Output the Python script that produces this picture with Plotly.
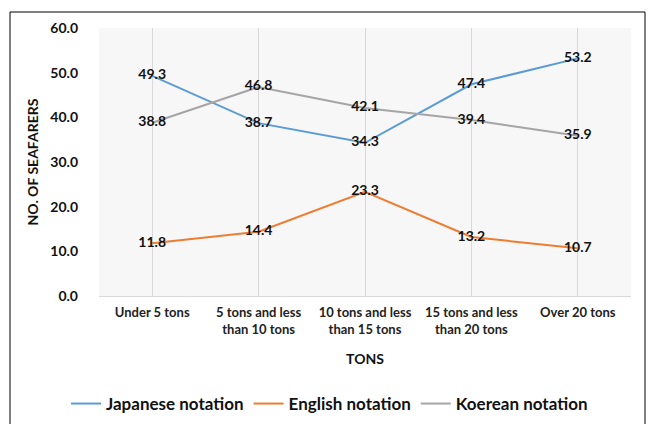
import plotly.graph_objects as go

categories = ["Under 5 tons", "5 tons and less<br>than 10 tons", "10 tons and less<br>than 15 tons",
              "15 tons and less<br>than 20 tons", "Over 20 tons"]
japanese = [49.3, 38.7, 34.3, 47.4, 53.2]
english = [11.8, 14.4, 23.3, 13.2, 10.7]
koerean = [38.8, 46.8, 42.1, 39.4, 35.9]
y_ticks = [0, 10, 20, 30, 40, 50, 60]

FONT = "Lato, Open Sans, sans-serif"
W, H = 648, 424
L, R, T, B = 99, 17, 28, 128

fig = go.Figure()
series = [
    ("Japanese notation", japanese, "#5b9bd5"),
    ("English notation", english, "#ed7d31"),
    ("Koerean notation", koerean, "#a5a5a5"),
]
for name, vals, color in series:
    fig.add_trace(go.Scatter(
        x=categories, y=vals, name=name, mode="lines+text",
        line=dict(color=color, width=2),
        text=[f"{v:.1f}" for v in vals], textposition="middle center",
        textfont=dict(family=FONT, size=14, color="#111111", weight="bold"),
        cliponaxis=False,
    ))

pw = W - L - R
ph = H - T - B
# outer frame around the chart
fig.add_shape(type="rect", xref="paper", yref="paper",
              x0=(10 - L) / pw, x1=(645 - L) / pw,
              y0=(H - 430 - B) / ph, y1=(H - 12 - B) / ph,
              line=dict(color="black", width=1), fillcolor="rgba(0,0,0,0)", layer="below")

fig.update_layout(
    width=W, height=H, margin=dict(l=L, r=R, t=T, b=B, autoexpand=False),
    paper_bgcolor="white", plot_bgcolor="#f7f7f7",
    font=dict(family=FONT, size=13, color="#222222"),
    showlegend=True,
    legend=dict(orientation="h", xref="container", yref="container",
                x=66 / W, xanchor="left", y=(H - 386) / H, yanchor="top",
                font=dict(family=FONT, size=17, color="#111111", weight="bold"),
                traceorder="normal", tracegroupgap=0),
    xaxis=dict(range=[-0.5, 4.5], showgrid=True, gridcolor="#d9d9d9", gridwidth=1, showline=True,
               automargin=False, linecolor="#d9d9d9", ticks="", ticklabelstandoff=4,
               tickfont=dict(family=FONT, size=13, color="#222222", weight="bold"),
               title=dict(text="TONS", font=dict(family=FONT, size=14, color="#111111", weight="bold"),
                          standoff=18)),
    yaxis=dict(range=[0, 60], tickvals=y_ticks, tickformat=".1f", showgrid=False, zeroline=False,
               showline=False, ticks="", ticklabelstandoff=20, automargin=False,
               tickfont=dict(family=FONT, size=14, color="#111111", weight="bold"),
               title=dict(text="NO. OF SEAFARERS", font=dict(family=FONT, size=14, color="#111111", weight="bold"),
                          standoff=8)),
)

fig.write_html("out.html")
